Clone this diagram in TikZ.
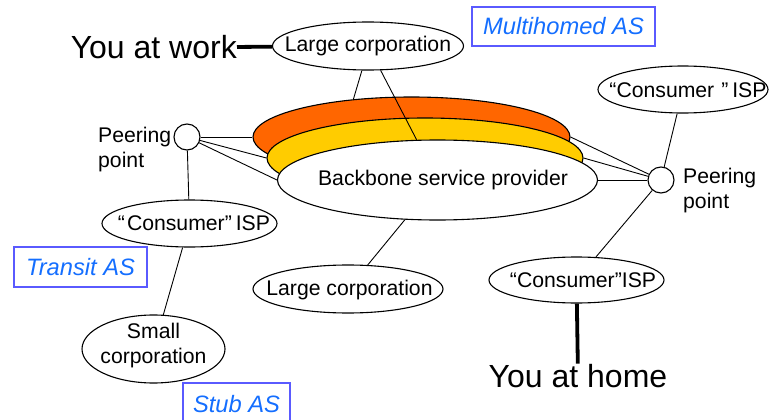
\documentclass[tikz,border=0pt]{standalone}
\usepackage{fontspec}
\setmainfont{Liberation Sans}
\usetikzlibrary{shapes.geometric}
\definecolor{orng}{RGB}{255,102,0}
\definecolor{yel}{RGB}{255,204,0}
\definecolor{astext}{RGB}{20,110,255}
\definecolor{asbox}{RGB}{90,90,255}
\pgfdeclarelayer{lzero}
\pgfdeclarelayer{lone}
\pgfdeclarelayer{ltwo}
\pgfsetlayers{lzero,lone,ltwo,main}
\begin{document}
\begin{tikzpicture}[x=1pt,y=-1pt,
  ell/.style={draw,ellipse,inner sep=0,line width=1.1pt,fill=white},
  peer/.style={draw,circle,inner sep=0,minimum size=26,line width=1.1pt,fill=white},
  lbl/.style={font=\fontsize{21.2}{25}\selectfont,inner sep=0},
  big/.style={font=\fontsize{32}{38}\selectfont,inner sep=0},
  ln/.style={line width=0.9pt},
  thick/.style={line width=3.8pt},
  asb/.style={draw=asbox,line width=1.2pt,text=astext,font=\fontsize{23.7}{28}\selectfont\itshape,inner sep=0}]
\useasboundingbox (0,0) rectangle (769,420);
\clip (0,0) rectangle (769,420);

% ellipses
\node[ell,minimum width=191,minimum height=48] (lc) at (368,46) {};
\begin{pgfonlayer}{lone}
\node[ell,fill=orng,minimum width=317,minimum height=80] (or) at (411.5,137) {};
\node[ell,fill=yel,minimum width=316,minimum height=80] (ye) at (425,158) {};
\end{pgfonlayer}
\node[ell,minimum width=320,minimum height=80] (bb) at (437.5,180) {};
\node[ell,minimum width=190,minimum height=48] (lc2) at (348,289) {};
\node[ell,minimum width=175,minimum height=47] (cl) at (189.5,223.5) {};
\node[ell,minimum width=143,minimum height=68] (sc) at (153.5,349) {};
\node[ell,minimum width=170,minimum height=47] (cr1) at (683,89.5) {};
\node[ell,minimum width=175,minimum height=46] (cr2) at (576.5,280) {};
\node[peer] (pl) at (187,137) {};
\node[peer] (pr) at (661,180) {};

% texts
\node[lbl] (tlc) at (368,46) {Large corporation};
\node[lbl] (tbb) at (443,180) {Backbone service provider};
\node[lbl] (tlc2) at (349.5,290) {Large corporation};
\node[lbl,align=center] (tsc) at (153.5,346) {Small\\corporation};
\node[lbl] (tcl) at (194,223.5) {“\hspace{2pt}Consumer”\hspace{4pt}ISP};
\node[lbl] (tcr1) at (688,90) {“Consumer\hspace{7pt}”\hspace{4pt}ISP};
\node[lbl] (tcr2) at (583,280) {“Consumer”ISP};
\node[lbl,align=left,anchor=west] (tpl) at (98,150) {Peering\\point};
\node[lbl,align=left,anchor=west] (tpr) at (683,191) {Peering\\point};
\node[big,anchor=base east] (work) at (237,59) {You at work};
\node[big,anchor=base] (home) at (578,387) {You at home};

% AS boxes
\node[asb,minimum width=183,minimum height=39] (mh) at (563.5,26.5) {Multihomed AS};
\node[asb,minimum width=133,minimum height=40] (tr) at (80.5,267) {Transit AS};
\node[asb,minimum width=107,minimum height=42] (st) at (236.5,404) {Stub AS};

% connectors under the orange band
\begin{pgfonlayer}{lzero}
\draw[ln] (pl) -- (or);
\draw[ln] (lc.256) -- (or.147);
\draw[ln] (pl) -- (ye.west);
\end{pgfonlayer}
% connectors above bands, below backbone
\begin{pgfonlayer}{ltwo}
\draw[ln] (lc) -- (bb);
\draw[ln] (pl) -- (bb.west);
\draw[ln] (pr) -- (or.east);
\draw[ln] (pr) -- (ye.east);
\draw[ln] (pr) -- (bb.east);
\end{pgfonlayer}
\draw[ln] (pl) -- (cl);
\draw[ln] (cl) -- (sc);
\draw[ln] (bb) -- (lc2);
\draw[ln] (pr) -- (cr1);
\draw[ln] (pr) -- (cr2);
\draw[thick] (work) -- (lc);
\draw[thick] (cr2) -- (home);
\end{tikzpicture}
\end{document}
